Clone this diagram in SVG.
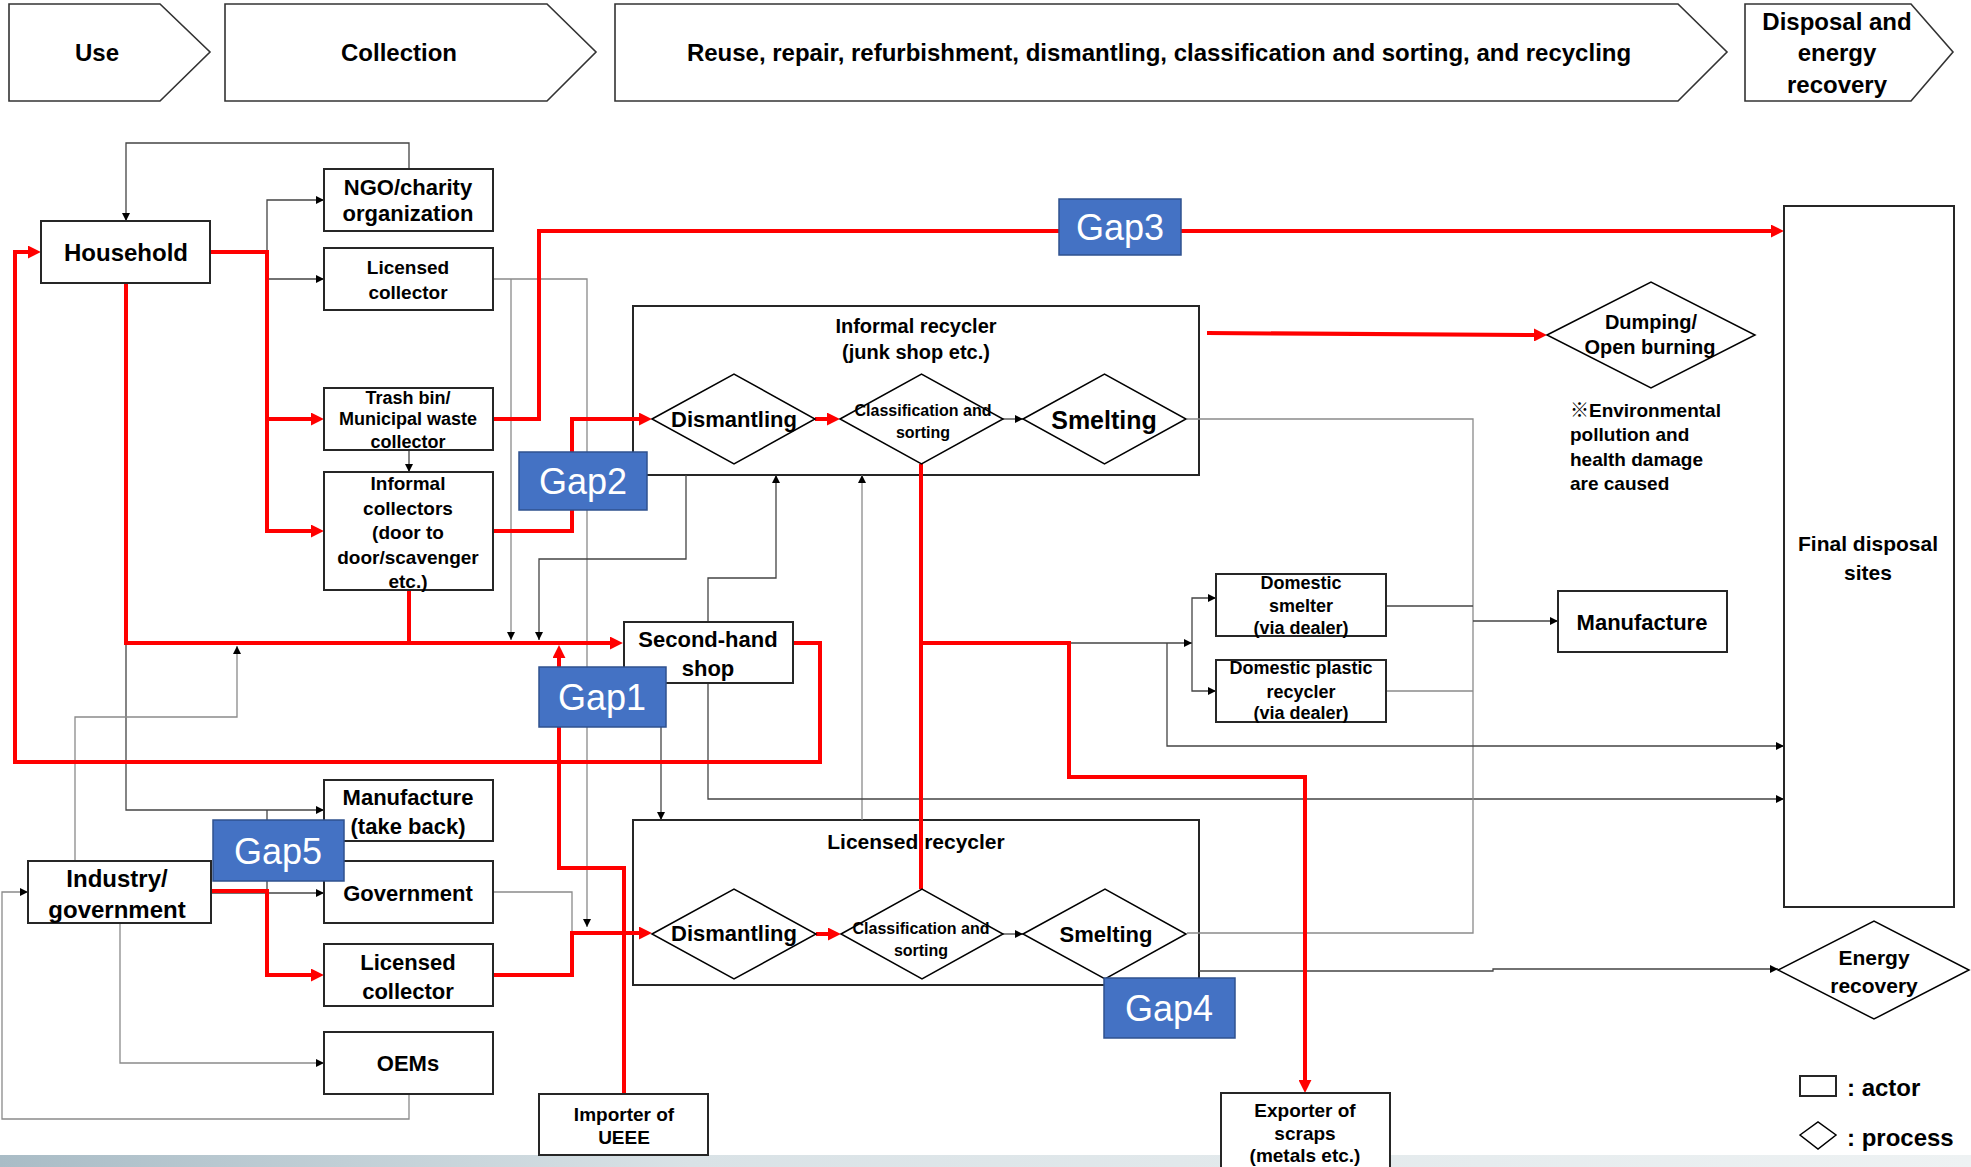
<svg xmlns="http://www.w3.org/2000/svg" width="1971" height="1167" viewBox="0 0 1971 1167">
<defs>
<style>
.box{fill:#fff;stroke:#262626;stroke-width:2}
.hdr{fill:#fff;stroke:#333;stroke-width:1.6}
.dia{fill:#fff;stroke:#000;stroke-width:1.5}
.t{font-family:"Liberation Sans",Arial,sans-serif;font-weight:bold;fill:#000;text-anchor:middle;dominant-baseline:central}
.tl{font-family:"Liberation Sans","Noto Sans CJK JP",Arial,sans-serif;font-weight:bold;fill:#000;text-anchor:start;dominant-baseline:central}
.ln{fill:none;stroke:#444;stroke-width:1.3}
.lg{fill:none;stroke:#8a8a8a;stroke-width:1.3}
.rd{fill:none;stroke:#ff0000;stroke-width:4}
.gapr{fill:#4472C4;stroke:#2F528F;stroke-width:1.5}
.gapt{font-family:"Liberation Sans",Arial,sans-serif;font-size:36px;fill:#fff;text-anchor:middle;dominant-baseline:central}
</style>
<marker id="ab" viewBox="0 0 10 10" refX="10" refY="5" markerWidth="8" markerHeight="8" markerUnits="userSpaceOnUse" orient="auto"><path d="M0,0 L10,5 L0,10 z" fill="#000"/></marker>
<marker id="ar" viewBox="0 0 10 10" refX="7" refY="5" markerWidth="13" markerHeight="13" markerUnits="userSpaceOnUse" orient="auto"><path d="M0,0 L10,5 L0,10 z" fill="#ff0000"/></marker>
<linearGradient id="strip" x1="0" y1="0" x2="1" y2="0">
<stop offset="0" stop-color="#a9bcc6"/>
<stop offset="0.35" stop-color="#d9e2e6"/>
<stop offset="1" stop-color="#eef2f3"/>
</linearGradient>
</defs>
<rect x="0" y="0" width="1971" height="1167" fill="#fff"/>
<rect x="0" y="1155" width="1971" height="12" fill="url(#strip)"/>

<g id="header">
<g id="stage-use"><polygon class="hdr" points="9,4 160,4 210,52 160,101 9,101"/><text class="t" x="97" y="52" font-size="24">Use</text></g>
<g id="stage-collection"><polygon class="hdr" points="225,4 547,4 596,52 547,101 225,101"/><text class="t" x="399" y="52" font-size="24">Collection</text></g>
<g id="stage-reuse"><polygon class="hdr" points="615,4 1678,4 1727,52 1678,101 615,101"/><text class="t" x="1159" y="52" font-size="24">Reuse, repair, refurbishment, dismantling, classification and sorting, and recycling</text></g>
<g id="stage-disposal"><polygon class="hdr" points="1745,4 1911,4 1953,52 1911,101 1745,101"/><text class="t" x="1837" y="21" font-size="24">Disposal and</text><text class="t" x="1837" y="52" font-size="24">energy</text><text class="t" x="1837" y="84" font-size="24">recovery</text></g>
</g>

<g id="informal-recycler"><rect class="box" x="633" y="306" width="566" height="169"/><text class="t" x="916" y="326" font-size="20">Informal recycler</text><text class="t" x="916" y="352" font-size="20">(junk shop etc.)</text></g>
<g id="licensed-recycler"><rect class="box" x="633" y="820" width="566" height="165"/><text class="t" x="916" y="841" font-size="21">Licensed recycler</text></g>

<g id="connectors">
<path class="ln" d="M409,169 V143 H126 V221" marker-end="url(#ab)"/>
<path class="ln" d="M267,252 V200 H324" marker-end="url(#ab)"/>
<path class="ln" d="M267,252 V279 H324" marker-end="url(#ab)"/>
<path class="lg" d="M493,279 H587 V927" marker-end="url(#ab)"/>
<path class="lg" d="M511,279 V640" marker-end="url(#ab)"/>
<path class="ln" d="M409,450 V472" marker-end="url(#ab)"/>
<path class="ln" d="M686,475 V559 H539 V640" marker-end="url(#ab)"/>
<path class="ln" d="M708,622 V578 H776 V475" marker-end="url(#ab)"/>
<path class="lg" d="M862,820 V475" marker-end="url(#ab)"/>
<path class="ln" d="M126,643 V810 H324" marker-end="url(#ab)"/>
<path class="lg" d="M75,861 V717 H237 V646" marker-end="url(#ab)"/>
<path class="ln" d="M211,893 H324" marker-end="url(#ab)"/>
<path class="ln" d="M267,893 V810"/>
<path class="lg" d="M120,923 V1063 H324" marker-end="url(#ab)"/>
<path class="lg" d="M409,1094 V1119 H2 V892 H28" marker-end="url(#ab)"/>
<path class="lg" d="M493,892 H572 V933"/>
<path class="ln" d="M661,683 V820" marker-end="url(#ab)"/>
<path class="ln" d="M708,683 V799 H1784" marker-end="url(#ab)"/>
<path class="ln" d="M1003,419 H1023" marker-end="url(#ab)"/>
<path class="ln" d="M1003,934 H1023" marker-end="url(#ab)"/>
<path class="lg" d="M1187,419 H1473 V933 H1187"/>
<path class="ln" d="M1386,606 H1473"/>
<path class="lg" d="M1386,691 H1473"/>
<path class="ln" d="M1473,621 H1558" marker-end="url(#ab)"/>
<path class="ln" d="M1069,643 H1192" marker-end="url(#ab)"/>
<path class="ln" d="M1192,643 V598 H1216" marker-end="url(#ab)"/>
<path class="ln" d="M1192,643 V691 H1216" marker-end="url(#ab)"/>
<path class="ln" d="M1167,643 V746 H1784" marker-end="url(#ab)"/>
<path class="ln" d="M1199,971 H1493 V969 H1778" marker-end="url(#ab)"/>

<path class="rd" d="M210,252 H267 V531 H320" marker-end="url(#ar)"/>
<path class="rd" d="M267,419 H320" marker-end="url(#ar)"/>
<path class="rd" d="M126,283 V643 H619" marker-end="url(#ar)"/>
<path class="rd" d="M409,590 V643"/>
<path class="rd" d="M493,419 H539 V231 H1780" marker-end="url(#ar)"/>
<path class="rd" d="M493,531 H572 V419 H648" marker-end="url(#ar)"/>
<path class="rd" d="M815,419 H836" marker-end="url(#ar)"/>
<path class="rd" d="M793,643 H820 V762 H15 V252 H37" marker-end="url(#ar)"/>
<path class="rd" d="M624,1094 V868 H559 V649" marker-end="url(#ar)"/>
<path class="rd" d="M921,464 V889"/>
<path class="rd" d="M921,643 H1069 V777 H1305 V1089" marker-end="url(#ar)"/>
<path class="rd" d="M1207,333 L1543,335" marker-end="url(#ar)"/>
<path class="rd" d="M211,891 H267 V975 H320" marker-end="url(#ar)"/>
<path class="rd" d="M493,975 H572 V933 H648" marker-end="url(#ar)"/>
<path class="rd" d="M816,934 H837" marker-end="url(#ar)"/>
</g>

<g id="household"><rect class="box" x="41" y="221" width="169" height="62"/><text class="t" x="126" y="252" font-size="24">Household</text></g>
<g id="ngo"><rect class="box" x="324" y="169" width="169" height="62"/><text class="t" x="408" y="187" font-size="22">NGO/charity</text><text class="t" x="408" y="213" font-size="22">organization</text></g>
<g id="licensed-collector-1"><rect class="box" x="324" y="248" width="169" height="62"/><text class="t" x="408" y="267" font-size="19">Licensed</text><text class="t" x="408" y="292" font-size="19">collector</text></g>
<g id="trash-bin"><rect class="box" x="324" y="388" width="169" height="62"/><text class="t" x="408" y="398" font-size="18">Trash bin/</text><text class="t" x="408" y="419" font-size="18">Municipal waste</text><text class="t" x="408" y="442" font-size="18">collector</text></g>
<g id="informal-collectors"><rect class="box" x="324" y="472" width="169" height="118"/><text class="t" x="408" y="483" font-size="19">Informal</text><text class="t" x="408" y="508" font-size="19">collectors</text><text class="t" x="408" y="532" font-size="19">(door to</text><text class="t" x="408" y="557" font-size="19">door/scavenger</text><text class="t" x="408" y="581" font-size="19">etc.)</text></g>
<g id="second-hand-shop"><rect class="box" x="624" y="622" width="169" height="61"/><text class="t" x="708" y="639" font-size="22">Second-hand</text><text class="t" x="708" y="668" font-size="22">shop</text></g>
<g id="manufacture-take-back"><rect class="box" x="324" y="780" width="169" height="61"/><text class="t" x="408" y="797" font-size="22">Manufacture</text><text class="t" x="408" y="826" font-size="22">(take back)</text></g>
<g id="industry-government"><rect class="box" x="28" y="861" width="183" height="62"/><text class="t" x="117" y="878" font-size="24">Industry/</text><text class="t" x="117" y="909" font-size="24">government</text></g>
<g id="government"><rect class="box" x="324" y="861" width="169" height="62"/><text class="t" x="408" y="893" font-size="22">Government</text></g>
<g id="licensed-collector-2"><rect class="box" x="324" y="944" width="169" height="62"/><text class="t" x="408" y="962" font-size="22">Licensed</text><text class="t" x="408" y="991" font-size="22">collector</text></g>
<g id="oems"><rect class="box" x="324" y="1032" width="169" height="62"/><text class="t" x="408" y="1063" font-size="22">OEMs</text></g>
<g id="importer"><rect class="box" x="539" y="1094" width="169" height="61"/><text class="t" x="624" y="1114" font-size="19">Importer of</text><text class="t" x="624" y="1137" font-size="19">UEEE</text></g>

<g id="informal-dismantling"><polygon class="dia" points="652,419 734,374 815,419 734,464"/><text class="t" x="734" y="419" font-size="22">Dismantling</text></g>
<g id="informal-classification"><polygon class="dia" points="840,419 921.5,374 1003,419 921.5,464"/><text class="t" x="923" y="410" font-size="16">Classification and</text><text class="t" x="923" y="432" font-size="16">sorting</text></g>
<g id="informal-smelting"><polygon class="dia" points="1023,419 1104.5,374 1186,419 1104.5,464"/><text class="t" x="1104" y="420" font-size="25">Smelting</text></g>
<g id="licensed-dismantling"><polygon class="dia" points="652,934 734,889 816,934 734,979"/><text class="t" x="734" y="933" font-size="22">Dismantling</text></g>
<g id="licensed-classification"><polygon class="dia" points="841,934 922,889 1003,934 922,979"/><text class="t" x="921" y="928" font-size="16">Classification and</text><text class="t" x="921" y="950" font-size="16">sorting</text></g>
<g id="licensed-smelting"><polygon class="dia" points="1023,934 1105,889 1186,934 1105,979"/><text class="t" x="1106" y="934" font-size="22">Smelting</text></g>

<g id="domestic-smelter"><rect class="box" x="1216" y="574" width="170" height="62"/><text class="t" x="1301" y="583" font-size="18">Domestic</text><text class="t" x="1301" y="606" font-size="18">smelter</text><text class="t" x="1301" y="628" font-size="18">(via dealer)</text></g>
<g id="domestic-plastic"><rect class="box" x="1216" y="660" width="170" height="62"/><text class="t" x="1301" y="668" font-size="18">Domestic plastic</text><text class="t" x="1301" y="692" font-size="18">recycler</text><text class="t" x="1301" y="713" font-size="18">(via dealer)</text></g>
<g id="manufacture"><rect class="box" x="1558" y="591" width="169" height="61"/><text class="t" x="1642" y="622" font-size="22">Manufacture</text></g>
<g id="final-disposal"><rect class="box" x="1784" y="206" width="170" height="701"/><text class="t" x="1868" y="543" font-size="21">Final disposal</text><text class="t" x="1868" y="572" font-size="21">sites</text></g>
<g id="dumping"><polygon class="dia" points="1547,335 1651,282 1755,335 1651,388"/><text class="t" x="1651" y="322" font-size="20">Dumping/</text><text class="t" x="1650" y="347" font-size="20">Open burning</text></g>
<g id="env-note"><text class="tl" x="1570" y="410" font-size="19">※Environmental</text><text class="tl" x="1570" y="434" font-size="19">pollution and</text><text class="tl" x="1570" y="459" font-size="19">health damage</text><text class="tl" x="1570" y="483" font-size="19">are caused</text></g>
<g id="energy-recovery"><polygon class="dia" points="1778,970 1874,921 1969,970 1874,1019"/><text class="t" x="1874" y="957" font-size="21">Energy</text><text class="t" x="1874" y="985" font-size="21">recovery</text></g>
<g id="exporter"><rect class="box" x="1221" y="1093" width="169" height="90"/><text class="t" x="1305" y="1110" font-size="19">Exporter of</text><text class="t" x="1305" y="1133" font-size="19">scraps</text><text class="t" x="1305" y="1155" font-size="19">(metals etc.)</text></g>

<g id="legend"><rect class="box" x="1800" y="1076" width="36" height="20"/><text class="tl" x="1847" y="1087" font-size="24">: actor</text><polygon class="dia" points="1800,1135 1818,1122 1836,1135 1818,1149"/><text class="tl" x="1847" y="1137" font-size="24">: process</text></g>

<g id="gap1"><rect class="gapr" x="539" y="667" width="127" height="60"/><text class="gapt" x="602" y="697">Gap1</text></g>
<g id="gap2"><rect class="gapr" x="519" y="452" width="128" height="58"/><text class="gapt" x="583" y="481">Gap2</text></g>
<g id="gap3"><rect class="gapr" x="1059" y="199" width="122" height="56"/><text class="gapt" x="1120" y="227">Gap3</text></g>
<g id="gap4"><rect class="gapr" x="1104" y="978" width="131" height="60"/><text class="gapt" x="1169" y="1008">Gap4</text></g>
<g id="gap5"><rect class="gapr" x="213" y="820" width="131" height="61"/><text class="gapt" x="278" y="851">Gap5</text></g>
</svg>
